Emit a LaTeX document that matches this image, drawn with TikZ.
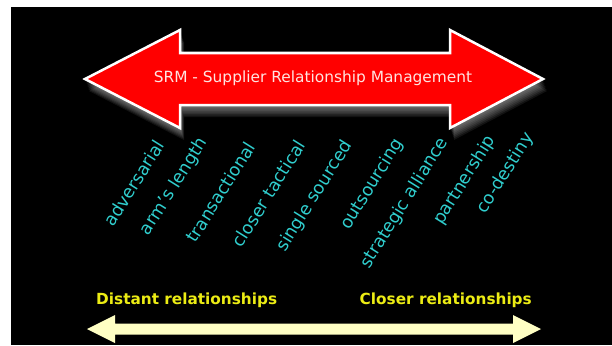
\documentclass[tikz,border=0pt]{standalone}
\usepackage{fontspec}
\setmainfont{DejaVu Sans}
\definecolor{srmred}{RGB}{255,0,0}
\definecolor{srmtext}{RGB}{255,228,225}
\definecolor{stagecyan}{RGB}{48,206,206}
\definecolor{scaleyellow}{RGB}{236,236,20}
\definecolor{scalecream}{RGB}{255,255,196}
\begin{document}
\begin{tikzpicture}[x=1pt,y=-1pt,
  stage/.style={text=stagecyan,font=\fontsize{17.5}{17.5}\selectfont,rotate=58,anchor=south east,inner sep=0pt},
  scalelabel/.style={text=scaleyellow,font=\bfseries\fontsize{15.3}{16}\selectfont,inner sep=0pt}]
\useasboundingbox (0,0) rectangle (612,345);
\fill[white] (0,0) rectangle (612,345);
\fill[black] (11,7) rectangle (612,345);

% soft shadow under the red double arrow
\foreach \k in {1,...,8}{
  \fill[white,opacity=0.07,shift={(0.5*\k,1.5*\k)}]
    (85,79) -- (180,30) -- (180,53) -- (450,53) -- (450,30) -- (543,79)
    -- (450,128) -- (450,105) -- (180,105) -- (180,128) -- cycle;
}
% red double arrow
\draw[white,line width=2.5pt,fill=srmred,line join=miter]
  (85,79) -- (180,30) -- (180,53) -- (450,53) -- (450,30) -- (543,79)
  -- (450,128) -- (450,105) -- (180,105) -- (180,128) -- cycle;
\node[text=srmtext,font=\fontsize{15.4}{16}\selectfont] (srm) at (313,78) {SRM - Supplier Relationship Management};

% relationship stages
\node[stage] (s1) at (166,145) {adversarial};
\node[stage] (s2) at (211,144) {arm's length};
\node[stage] (s3) at (257,147) {transactional};
\node[stage] (s4) at (307,145) {closer tactical};
\node[stage] (s5) at (356,147) {single sourced};
\node[stage] (s6) at (407,145) {outsourcing};
\node[stage] (s7) at (452,144) {strategic alliance};
\node[stage] (s8) at (499,142) {partnership};
\node[stage] (s9) at (537,139) {co-destiny};

% scale of closeness
\node[scalelabel,anchor=west] (far) at (96,300) {Distant relationships};
\node[scalelabel,anchor=east] (near) at (532,300) {Closer relationships};
\fill[scalecream]
  (87,329) -- (115,315) -- (115,323.5) -- (513,323.5) -- (513,315) -- (541,329)
  -- (513,343) -- (513,334.5) -- (115,334.5) -- (115,343) -- cycle;
\end{tikzpicture}
\end{document}
